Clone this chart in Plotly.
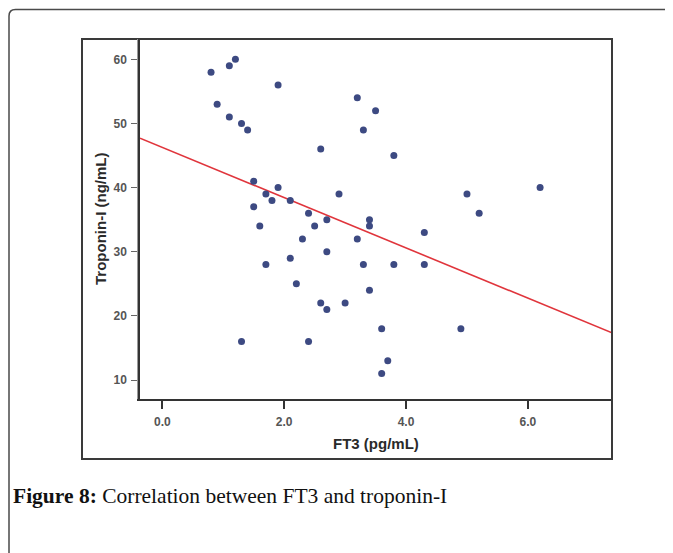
import plotly.graph_objects as go

# ---- data ----
ft3 = [0.8, 1.1, 1.2, 1.9, 0.9, 1.1, 1.3, 1.4, 2.6, 1.5,
       1.9, 1.7, 1.8, 2.1, 2.9, 1.5, 2.4, 1.6, 2.5, 2.7,
       2.3, 3.2, 2.7, 2.1, 1.7, 3.2, 3.5, 3.3, 3.8, 5.0,
       6.2, 5.2, 3.4, 3.4, 4.3, 3.3, 3.8, 4.3, 2.2, 2.6,
       2.7, 3.0, 1.3, 2.4, 3.4, 3.6, 4.9, 3.7, 3.6]
troponin = [58, 59, 60, 56, 53, 51, 50, 49, 46, 41,
            40, 39, 38, 38, 39, 37, 36, 34, 34, 35,
            32, 32, 30, 29, 28, 54, 52, 49, 45, 39,
            40, 36, 35, 34, 33, 28, 28, 28, 25, 22,
            21, 22, 16, 16, 24, 18, 18, 13, 11]

fit_x = [-0.366, 7.38]
fit_y = [47.7, 17.35]

x_ticks = [0, 2, 4, 6]
x_tick_labels = ["0.0", "2.0", "4.0", "6.0"]
y_ticks = [10, 20, 30, 40, 50, 60]
y_tick_labels = ["10", "20", "30", "40", "50", "60"]

x_title = "FT3 (pg/mL)"
y_title = "Troponin-I (ng/mL)"
caption_bold = "Figure 8:"
caption_rest = " Correlation between FT3 and troponin-I"

# the page body has an 8px default margin, so the figure starts at (8, 8)
OFF = 8
W, H = 673 - OFF, 553 - OFF


def px(x):
    return (x - OFF) / W


def py(y):
    return 1 - (y - OFF) / H


fig = go.Figure()
fig.add_trace(go.Scatter(
    x=fit_x, y=fit_y, mode="lines",
    line=dict(color="#E0353C", width=1.6),
    hoverinfo="skip", showlegend=False))
fig.add_trace(go.Scatter(
    x=ft3, y=troponin, mode="markers",
    marker=dict(color="#3D4A82", size=7, line=dict(width=0)),
    showlegend=False))

axis_font = dict(family="Liberation Sans, Arial, sans-serif", size=12, color="#555555")

fig.update_layout(
    template="none",
    width=W, height=H,
    autosize=False,
    margin=dict(l=0, r=0, t=0, b=0, pad=0),
    paper_bgcolor="white",
    plot_bgcolor="white",
    showlegend=False,
    xaxis=dict(
        domain=[px(140), px(612)],
        range=[-0.366, 7.38],
        tickmode="array", tickvals=x_ticks, ticktext=x_tick_labels,
        ticks="outside", ticklen=8, tickwidth=2, tickcolor="#333",
        showline=True, linecolor="#333", linewidth=2,
        showgrid=False, zeroline=False,
        tickfont=dict(axis_font, weight="bold"),
        ticklabelstandoff=3,
        automargin=False,
    ),
    yaxis=dict(
        domain=[py(399), py(39)],
        range=[7.04, 63.17],
        tickmode="array", tickvals=y_ticks, ticktext=y_tick_labels,
        ticks="outside", ticklen=6, tickwidth=1.2, tickcolor="#666",
        showline=True, linecolor="#333", linewidth=2.5,
        showgrid=False, zeroline=False,
        tickfont=dict(axis_font, weight="bold"),
        ticklabelstandoff=2,
        automargin=False,
    ),
)

# SPSS chart frame
fig.add_shape(type="rect", xref="paper", yref="paper",
              x0=px(82), x1=px(612), y0=py(459), y1=py(39),
              line=dict(color="#3a3a3a", width=2), layer="above")

# thin grey companion line of the y axis
fig.add_shape(type="line", xref="paper", yref="paper",
              x0=px(137.5), x1=px(137.5), y0=py(399), y1=py(39),
              line=dict(color="#9a9a9a", width=1))

# outer rounded border of the figure box
path = (f"M {px(9)},{py(570)} L {px(9)},{py(16)} "
        f"Q {px(9)},{py(9.5)} {px(15.5)},{py(9.5)} L {px(690)},{py(9.5)}")
fig.add_shape(type="path", xref="paper", yref="paper", path=path,
              line=dict(color="#4a4a4a", width=1.5))

# axis titles
fig.add_annotation(xref="paper", yref="paper", x=px(376), y=py(443),
                   text=f"<b>{x_title}</b>", showarrow=False,
                   xanchor="center", yanchor="middle",
                   font=dict(family="Liberation Sans, Arial, sans-serif", size=15, color="#2a2a2a"))
fig.add_annotation(xref="paper", yref="paper", x=px(100), y=py(219),
                   text=f"<b>{y_title}</b>", showarrow=False, textangle=-90,
                   xanchor="center", yanchor="middle",
                   font=dict(family="Liberation Sans, Arial, sans-serif", size=15, color="#2a2a2a"))

# caption
fig.add_annotation(xref="paper", yref="paper", x=px(11), y=py(496),
                   text=f"<b>{caption_bold}</b>{caption_rest}", showarrow=False,
                   xanchor="left", yanchor="middle",
                   font=dict(family="Liberation Serif, DejaVu Serif, serif", size=21.5, color="#111"))

fig.write_html("out.html")
